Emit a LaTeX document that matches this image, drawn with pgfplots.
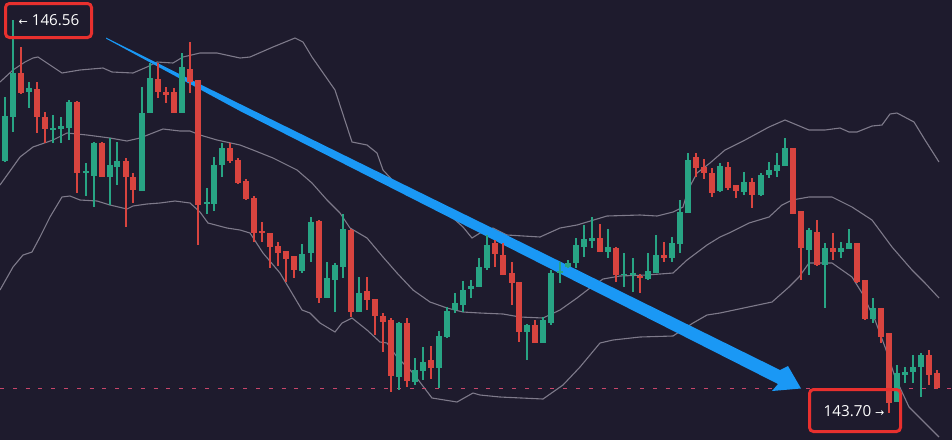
\documentclass[border=0pt]{standalone}
\usepackage{pgfplots}
\pgfplotsset{compat=1.18}
\usepackage{pgfplotstable}
\usepackage{fontspec}
\setmainfont{Open Sans}
\newfontfamily\arr{DejaVu Sans}
\definecolor{bgc}{HTML}{1E1B2D}
\definecolor{cgreen}{HTML}{28A484}
\definecolor{cred}{HTML}{D8443F}
\definecolor{band}{HTML}{7E7A8A}
\definecolor{arrowblue}{HTML}{1A98F5}
\definecolor{boxred}{HTML}{E8302E}
\definecolor{dashc}{HTML}{C8466A}

% candles in pixel units: x, high, body top, body bottom, low
\pgfplotstableread{
x hi t b lo
5 97 116 161 162
13 20 73 117 132
29 82 88 92 108
53 115 128 130 143
61 117 126 129 143
69 100 102 128 140
86 163 171 173 196
94 142 143 176 207
110 138 165 177 205
117 142 161 167 185
142 87 113 191 191
150 63 78 113 113
182 53 67 113 113
207 188 202 204 214
214 157 165 204 211
222 143 148 165 177
302 244 254 271 273
311 217 222 253 262
327 262 278 298 298
335 263 265 280 312
343 214 229 267 278
359 277 293 312 312
399 322 323 377 390
415 358 370 382 385
423 347 362 371 380
439 331 336 368 388
447 307 311 337 338
455 293 303 310 313
463 281 290 305 312
471 280 286 289 298
479 258 267 287 287
487 235 245 268 270
527 324 325 332 360
543 317 320 343 343
551 270 273 323 325
560 262 271 273 283
568 260 263 267 268
576 238 245 263 268
584 225 239 247 257
592 217 238 241 248
608 229 247 252 258
624 253 274 275 287
633 258 273 275 292
648 253 271 279 280
656 235 255 273 273
672 237 243 258 262
680 200 212 244 253
688 153 160 213 213
720 163 166 191 192
744 172 182 192 195
761 173 175 195 196
769 162 170 175 178
777 153 165 171 177
785 138 148 166 166
809 228 230 250 275
825 243 248 265 308
841 242 248 252 258
849 229 243 249 249
873 298 308 319 323
897 365 373 402 402
905 367 372 375 383
913 355 367 372 383
921 353 355 367 397
}\greentab

\pgfplotstableread{
x hi t b lo
21 47 73 93 94
37 82 89 117 133
45 112 117 129 143
77 101 102 173 193
102 142 143 177 177
126 158 161 177 227
133 173 177 190 203
158 63 79 92 98
166 87 92 95 103
174 88 92 113 113
190 42 69 82 93
198 80 80 205 245
230 143 148 161 163
238 158 160 183 184
246 179 181 199 200
254 196 198 233 242
262 222 231 233 242
270 233 233 247 268
278 242 246 253 266
286 251 251 259 282
294 256 256 270 278
319 220 221 298 303
351 229 230 312 317
367 277 291 300 310
375 299 299 316 335
383 313 316 322 352
391 318 320 376 392
407 318 323 381 387
431 346 360 368 379
495 240 243 254 267
503 243 255 275 275
512 262 273 283 305
519 282 282 332 342
535 320 325 343 343
600 224 238 252 252
616 247 248 275 282
640 274 276 278 293
664 242 255 258 262
696 153 157 168 177
704 159 167 173 179
712 168 173 193 197
728 162 167 188 190
736 185 185 191 198
752 178 182 195 208
793 148 148 214 214
801 211 211 248 280
817 220 232 265 266
833 233 248 252 260
857 243 243 282 283
865 280 280 319 320
881 308 308 337 343
889 333 333 403 413
929 350 355 375 385
937 370 373 388 389
}\redtab

\begin{document}
\begin{tikzpicture}
\begin{axis}[
  scale only axis, width=476pt, height=220pt,
  xmin=0, xmax=952, ymin=0, ymax=440, y dir=reverse,
  hide axis, clip=true]
\fill[bgc] (axis cs:0,0) rectangle (axis cs:952,440);

% Bollinger bands
\addplot[band, line width=0.55pt, mark=none] coordinates {
(0,82) (13,70) (25,62) (33,58) (38,57) (50,65) (62,73) (80,70) (103,68) (112,72) (133,73) (147,67) (157,62) (173,63) (183,57) (200,53) (217,53) (240,58) (250,57) (273,47) (295,38) (303,42) (312,57) (335,90) (352,142) (367,145) (377,153) (383,170) (397,185) (407,195) (417,197) (433,205) (453,218) (463,227) (472,238) (480,233) (493,228) (507,235) (540,237) (560,228) (577,225) (607,216) (640,215) (657,216) (673,212) (683,207) (688,190) (697,173) (710,163) (725,150) (745,140) (769,127) (785,120) (809,130) (825,130) (840,128) (849,132) (857,132) (872,126) (882,125) (890,114) (897,113) (914,122) (925,140) (939,162)};
\addplot[band, line width=0.55pt, mark=none] coordinates {
(0,185) (20,157) (33,147) (53,140) (67,133) (87,135) (110,138) (127,141) (140,138) (163,129) (180,131) (190,131) (200,135) (217,140) (240,145) (253,150) (273,158) (297,170) (312,183) (327,200) (340,213) (350,228) (367,238) (383,257) (397,273) (413,290) (430,302) (447,308) (463,312) (480,313) (503,314) (520,317) (543,318) (560,310) (577,298) (590,288) (603,279) (620,276) (647,275) (673,273) (687,260) (707,245) (720,237) (729,233) (749,223) (769,217) (782,205) (792,200) (809,197) (832,197) (852,207) (872,220) (892,247) (912,270) (925,283) (939,298)};
\addplot[band, line width=0.55pt, mark=none] coordinates {
(0,290) (13,267) (23,255) (32,252) (40,237) (50,217) (62,197) (70,196) (80,200) (97,201) (110,205) (127,209) (133,206) (147,204) (160,203) (175,201) (190,203) (200,212) (208,223) (227,228) (240,230) (250,233) (263,253) (280,273) (302,310) (310,313) (320,323) (335,332) (342,323) (352,318) (367,330) (380,342) (387,343) (397,357) (413,373) (432,398) (457,402) (473,393) (480,395) (500,397) (543,399) (563,385) (580,367) (600,343) (613,340) (640,337) (673,336) (693,323) (707,315) (720,313) (772,302) (789,287) (799,277) (809,263) (832,263) (852,277) (862,293) (875,320) (885,347) (895,377) (909,407) (925,423) (939,437)};

% dashed price line
\draw[dashc, line width=0.5pt, dash pattern=on 2pt off 4.4pt] (axis cs:0,388) -- (axis cs:952,388);

% tapered blue arrow
\fill[arrowblue] (axis cs:106,37.6) -- (axis cs:240,104) -- (axis cs:480,222) -- (axis cs:780,370)
  -- (axis cs:788,366) -- (axis cs:801,388.5) -- (axis cs:772,391)
  -- (axis cs:778,384) -- (axis cs:480,233) -- (axis cs:240,111) -- (axis cs:106,38.6) -- cycle;

% candles: wicks
\addplot[draw=none, mark=none, error bars/.cd, y dir=plus, y explicit, error mark=none,
  error bar style={line width=0.6pt, draw=cgreen}]
  table[x=x, y=hi, y error expr=\thisrow{lo}-\thisrow{hi}] {\greentab};
\addplot[draw=none, mark=none, error bars/.cd, y dir=plus, y explicit, error mark=none,
  error bar style={line width=0.6pt, draw=cred}]
  table[x=x, y=hi, y error expr=\thisrow{lo}-\thisrow{hi}] {\redtab};
% candles: bodies
\addplot[draw=none, mark=none, error bars/.cd, y dir=plus, y explicit, error mark=none,
  error bar style={line width=3pt, draw=cgreen}]
  table[x=x, y=t, y error expr=\thisrow{b}-\thisrow{t}] {\greentab};
\addplot[draw=none, mark=none, error bars/.cd, y dir=plus, y explicit, error mark=none,
  error bar style={line width=3pt, draw=cred}]
  table[x=x, y=t, y error expr=\thisrow{b}-\thisrow{t}] {\redtab};

% labels
\draw[boxred, line width=1.5pt, rounded corners=2pt] (axis cs:5.5,3.5) rectangle (axis cs:91.5,37.5);
\node[text=white, font=\fontsize{7.6}{9}\selectfont, inner sep=0pt] at (axis cs:49,20)
  {{\arr\fontsize{5.5}{6}\selectfont ←}\ 146.56};
\draw[boxred, line width=1.5pt, rounded corners=2pt] (axis cs:809.5,389.5) rectangle (axis cs:900.5,431.5);
\node[text=white, font=\fontsize{7.6}{9}\selectfont, inner sep=0pt] at (axis cs:854,411.5)
  {143.70\ {\arr\fontsize{5.5}{6}\selectfont →}};
\end{axis}
\end{tikzpicture}
\end{document}
